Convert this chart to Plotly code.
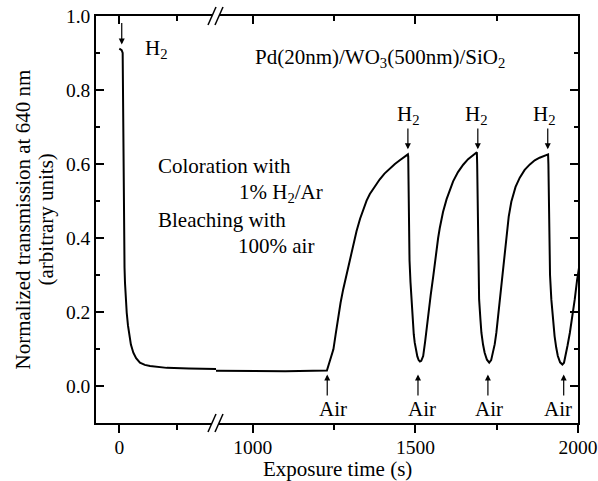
import plotly.graph_objects as go

# ---------------- data ----------------
# segment before the axis break (exposure time in s, normalized transmission)
t_left = [0, 20, 29, 33, 37, 41, 45, 49, 56, 64, 75, 86, 100, 121, 145, 178, 220,
          265, 330, 409, 600, 834]
v_left = [0.912, 0.908, 0.900, 0.700, 0.500, 0.369, 0.320, 0.279, 0.235, 0.198, 0.163,
          0.135, 0.112, 0.090, 0.075, 0.063, 0.057, 0.054, 0.051, 0.049, 0.047, 0.046]

# segment after the axis break
t_right = [887, 1000, 1100, 1228,
           1235, 1242, 1248, 1255, 1263, 1270, 1278, 1286, 1294, 1300, 1306, 1312, 1319,
           1330, 1340, 1350, 1360, 1375, 1390, 1405, 1421, 1437, 1452, 1465, 1477,
           1478, 1480, 1482, 1485, 1488, 1492, 1495, 1498, 1502, 1506, 1510, 1514, 1518,
           1521, 1524, 1530, 1535, 1539, 1547, 1555, 1560, 1565, 1570, 1575, 1585, 1596,
           1606, 1616, 1631, 1647, 1662, 1678, 1689,
           1690, 1692, 1694, 1696, 1700, 1703, 1708, 1713, 1720, 1727, 1733, 1739, 1744,
           1749, 1757, 1765, 1770, 1775, 1780, 1787, 1795, 1808, 1821, 1836, 1852, 1867,
           1882, 1895, 1908,
           1909, 1911, 1914, 1918, 1923, 1928, 1933, 1938, 1945, 1952, 1957, 1962, 1968,
           1975, 1983, 1990, 1997, 2003, 2012]
v_right = [0.041, 0.040, 0.040, 0.042,
           0.060, 0.080, 0.099, 0.140, 0.189, 0.225, 0.261, 0.293, 0.324, 0.347, 0.369,
           0.394, 0.418, 0.452, 0.479, 0.501, 0.519, 0.540, 0.558, 0.574, 0.588, 0.600,
           0.610, 0.618, 0.626,
           0.620, 0.450, 0.340, 0.280, 0.234, 0.175, 0.140, 0.117, 0.095, 0.080, 0.070,
           0.066, 0.068, 0.073, 0.081, 0.120, 0.160, 0.189, 0.245, 0.297, 0.335, 0.369,
           0.400, 0.427, 0.470, 0.505, 0.532, 0.553, 0.578, 0.598, 0.613, 0.624, 0.632,
           0.600, 0.420, 0.300, 0.234, 0.180, 0.144, 0.112, 0.090, 0.071, 0.063, 0.070,
           0.090, 0.113, 0.144, 0.210, 0.279, 0.330, 0.372, 0.412, 0.458, 0.498, 0.538,
           0.563, 0.584, 0.599, 0.610, 0.617, 0.622, 0.626,
           0.600, 0.420, 0.300, 0.234, 0.180, 0.135, 0.104, 0.081, 0.064, 0.058, 0.063,
           0.081, 0.110, 0.144, 0.190, 0.234, 0.285, 0.315, 0.370]

h2_first_time = 21
h2_times = [1477, 1692, 1907]
h2_label_times = [1478, 1688, 1898]
air_times = [1229, 1508, 1723, 1956]
air_label_times = [1247, 1519, 1726, 1939]

y_ticks = [0.0, 0.2, 0.4, 0.6, 0.8, 1.0]
x_left_ticks = [0]
x_left_minor = [500]
x_right_ticks = [1000, 1500, 2000]
x_right_minor = [1250, 1750]

# ---------------- figure ----------------
FONT = "Liberation Serif"
W, H = 598, 481
ML, MR, MT, MB = 96, 20, 16, 58
PW, PH = W - ML - MR, H - MT - MB
BREAK_PX = 216
split = (BREAK_PX - ML) / PW


def px(xp):
    return (xp - ML) / PW


def py(yp):
    return (MT + PH - yp) / PH


fig = go.Figure()
line = dict(color="black", width=2)
fig.add_trace(go.Scatter(x=t_left, y=v_left, mode="lines", line=line,
                         xaxis="x", yaxis="y", showlegend=False))
fig.add_trace(go.Scatter(x=t_right, y=v_right, mode="lines", line=line,
                         xaxis="x2", yaxis="y", showlegend=False))
# empty traces so the frame axes are created
fig.add_trace(go.Scatter(x=[], y=[], xaxis="x3", yaxis="y", showlegend=False))
fig.add_trace(go.Scatter(x=[], y=[], xaxis="x4", yaxis="y2", showlegend=False))

xr_left = [-201, 834]
xr_right = [887, 2000]
yr = [-0.1, 1.0]

tickfont = dict(family=FONT, size=19.5, color="black")
common_x = dict(showgrid=False, zeroline=False, showline=True, linecolor="black",
                linewidth=1.5, tickcolor="black", tickwidth=1.5, tickfont=tickfont,
                automargin=False)

fig.update_layout(
    width=W, height=H,
    margin=dict(l=ML, r=MR, t=MT, b=MB),
    paper_bgcolor="white", plot_bgcolor="white",
    font=dict(family=FONT, color="black"),
    xaxis=dict(domain=[0, split], range=xr_left, anchor="y",
               tickmode="array", tickvals=x_left_ticks, ticks="outside", ticklen=8,
               ticklabelstandoff=-2,
               minor=dict(tickmode="array", tickvals=x_left_minor, ticks="outside",
                          ticklen=5, tickcolor="black", tickwidth=1.5),
               **common_x),
    xaxis2=dict(domain=[split, 1], range=xr_right, anchor="y",
                tickmode="array", tickvals=x_right_ticks, ticks="outside", ticklen=8,
                ticklabelstandoff=-2,
                minor=dict(tickmode="array", tickvals=x_right_minor, ticks="outside",
                           ticklen=5, tickcolor="black", tickwidth=1.5),
                **common_x),
    xaxis3=dict(overlaying="x", side="top", range=xr_left, anchor="y",
                tickmode="array", tickvals=x_left_ticks, ticks="inside", ticklen=8,
                showticklabels=False,
                minor=dict(tickmode="array", tickvals=x_left_minor, ticks="inside",
                           ticklen=5, tickcolor="black", tickwidth=1.5),
                **common_x),
    xaxis4=dict(overlaying="x2", side="top", range=xr_right, anchor="y2",
                tickmode="array", tickvals=x_right_ticks, ticks="inside", ticklen=8,
                showticklabels=False,
                minor=dict(tickmode="array", tickvals=x_right_minor, ticks="inside",
                           ticklen=5, tickcolor="black", tickwidth=1.5),
                **common_x),
    yaxis=dict(range=yr, anchor="x", tickmode="array", tickvals=y_ticks,
               tickformat=".1f", ticks="inside", ticklen=8,
               minor=dict(dtick=0.1, tick0=0, ticks="inside", ticklen=4,
                          tickcolor="black", tickwidth=1.5),
               **common_x),
    yaxis2=dict(range=yr, overlaying="y", side="right", anchor="x2",
                tickmode="array", tickvals=y_ticks, ticks="inside", ticklen=8,
                showticklabels=False,
                minor=dict(dtick=0.1, tick0=0, ticks="inside", ticklen=4,
                           tickcolor="black", tickwidth=1.5),
                **common_x),
)

ann = []
txt = dict(family=FONT, size=21, color="black")
title_font = dict(family=FONT, size=21, color="black")
# axis titles
ann.append(dict(xref="paper", yref="paper", x=px(22), y=0.5, textangle=-90,
                text="Normalized transmission at 640 nm", showarrow=False,
                font=title_font, xanchor="center", yanchor="middle"))
ann.append(dict(xref="paper", yref="paper", x=px(45), y=0.5, textangle=-90,
                text="(arbitrary units)", showarrow=False,
                font=title_font, xanchor="center", yanchor="middle"))
ann.append(dict(xref="paper", yref="paper", x=0.5, y=py(468.5),
                text="Exposure time (s)", showarrow=False,
                font=title_font, xanchor="center", yanchor="middle"))
# free text
ann.append(dict(xref="paper", yref="paper", x=px(143), y=py(49), text="H<sub>2</sub>",
                showarrow=False, font=txt, xanchor="left", yanchor="middle"))
ann.append(dict(xref="paper", yref="paper", x=px(253), y=py(58),
                text="Pd(20nm)/WO<sub>3</sub>(500nm)/SiO<sub>2</sub>",
                showarrow=False, font=txt, xanchor="left", yanchor="middle"))
ann.append(dict(xref="paper", yref="paper", x=px(156), y=py(166), text="Coloration with",
                showarrow=False, font=txt, xanchor="left", yanchor="middle"))
ann.append(dict(xref="paper", yref="paper", x=px(237), y=py(193), text="1% H<sub>2</sub>/Ar",
                showarrow=False, font=txt, xanchor="left", yanchor="middle"))
ann.append(dict(xref="paper", yref="paper", x=px(156), y=py(220), text="Bleaching with",
                showarrow=False, font=txt, xanchor="left", yanchor="middle"))
ann.append(dict(xref="paper", yref="paper", x=px(236), y=py(246), text="100% air",
                showarrow=False, font=txt, xanchor="left", yanchor="middle"))

arrow = dict(text="", showarrow=True, arrowhead=2, arrowsize=1, arrowwidth=1.2,
             arrowcolor="black", standoff=0, startstandoff=0)
# first H2 arrow
ann.append(dict(xref="x", yref="y", axref="x", ayref="y", x=h2_first_time, y=0.923,
                ax=h2_first_time, ay=0.985, **arrow))
for t, tl in zip(h2_times, h2_label_times):
    ann.append(dict(xref="x2", yref="y", axref="x2", ayref="y", x=t, y=0.640,
                    ax=t, ay=0.700, **arrow))
    ann.append(dict(xref="x2", yref="y", x=tl, y=0.733, text="H<sub>2</sub>",
                    showarrow=False, font=txt, xanchor="center", yanchor="middle"))
for t, tl in zip(air_times, air_label_times):
    ann.append(dict(xref="x2", yref="y", axref="x2", ayref="y", x=t, y=0.031,
                    ax=t, ay=-0.030, **arrow))
    ann.append(dict(xref="x2", yref="y", x=tl, y=-0.062, text="Air",
                    showarrow=False, font=txt, xanchor="center", yanchor="middle"))
fig.update_layout(annotations=ann)

# axis break marks
shapes = []
for yp in (MT, MT + PH):
    shapes.append(dict(type="rect", xref="paper", yref="paper", layer="above",
                       x0=px(BREAK_PX - 4), x1=px(BREAK_PX + 3),
                       y0=py(yp + 2), y1=py(yp - 2),
                       fillcolor="white", line=dict(width=0)))
    for off in (-4, 3):
        shapes.append(dict(type="line", xref="paper", yref="paper", layer="above",
                           x0=px(BREAK_PX + off - 4), y0=py(yp + 9),
                           x1=px(BREAK_PX + off + 4), y1=py(yp - 9),
                           line=dict(color="black", width=1.5)))
fig.update_layout(shapes=shapes)

fig.write_html("out.html")
